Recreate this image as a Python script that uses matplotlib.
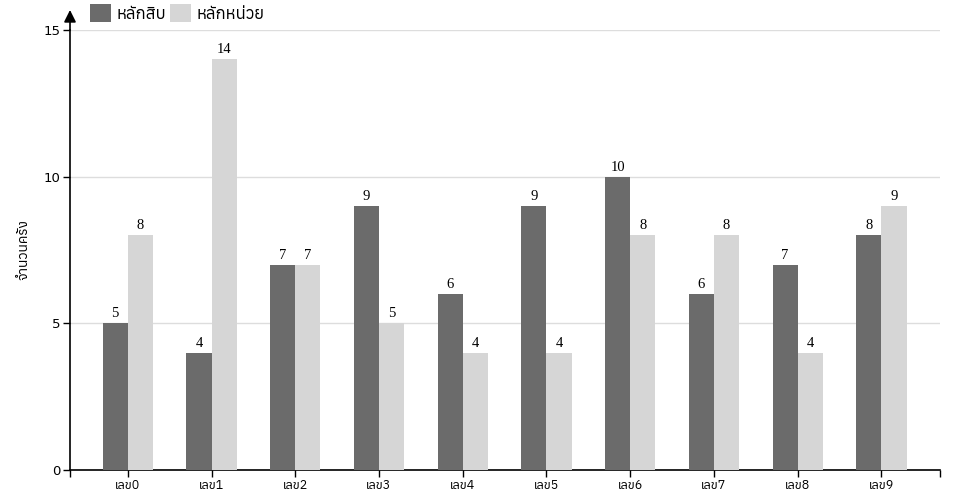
import matplotlib
matplotlib.use("Agg")
import matplotlib.pyplot as plt
from matplotlib import font_manager
from matplotlib.ft2font import FT2Font
import numpy as np

categories = ["เลข0", "เลข1", "เลข2", "เลข3", "เลข4", "เลข5", "เลข6", "เลข7", "เลข8", "เลข9"]
tens = [5, 4, 7, 9, 6, 9, 10, 6, 7, 8]
units = [8, 14, 7, 5, 4, 4, 8, 8, 4, 9]
series_names = ["หลักสิบ", "หลักหน่วย"]
y_label = "จำนวนครั้ง"
y_ticks = [0, 5, 10, 15]

# find an installed font that has Thai glyphs
thai_fonts = []
for f in font_manager.fontManager.ttflist:
    try:
        if 0x0E2B in FT2Font(f.fname).get_charmap():
            thai_fonts.append(f.name)
    except Exception:
        pass
families = sorted(set(thai_fonts)) + ["DejaVu Sans"]
plt.rcParams["font.family"] = families

dark = "#6b6b6b"
light = "#d6d6d6"

fig = plt.figure(figsize=(9.6, 5), dpi=100)
ax = fig.add_axes([70 / 960, 30 / 500, 870 / 960, 440 / 500])

x = np.arange(len(categories))
w = 0.3
b1 = ax.bar(x - w / 2, tens, w, color=dark, label=series_names[0], zorder=3)
b2 = ax.bar(x + w / 2, units, w, color=light, label=series_names[1], zorder=3)

for bars, vals in ((b1, tens), (b2, units)):
    for r, v in zip(bars, vals):
        ax.text(r.get_x() + r.get_width() / 2, v + 0.1, str(v), ha="center", va="bottom",
                fontsize=10.5, family="Liberation Serif")

ax.set_xlim(-0.69, 9.7)
ax.set_ylim(0, 15)
ax.set_yticks(y_ticks)
ax.set_xticks(x)
ax.set_xticklabels(categories, fontsize=9)
ax.set_xticks([-0.69, 9.7], minor=True)
ax.tick_params(axis="x", which="both", length=5, width=1, pad=1.5)
ax.tick_params(axis="y", length=5, width=1, labelsize=9.5, pad=2)
for lab in ax.get_yticklabels():
    lab.set_family("DejaVu Sans")
ax.grid(axis="y", color="#dddddd", lw=1, zorder=0)

for s in ("top", "right"):
    ax.spines[s].set_visible(False)
ax.spines["left"].set_linewidth(1.2)
ax.spines["bottom"].set_linewidth(1.2)

# arrow on top of y axis
ax.annotate("", xy=(70 / 960, 490 / 500), xytext=(70 / 960, 470 / 500),
            xycoords="figure fraction", textcoords="figure fraction",
            arrowprops=dict(arrowstyle="-|>", color="black", lw=1.2, mutation_scale=18,
                            shrinkA=0, shrinkB=0))

ax.set_ylabel(y_label, fontsize=10)
ax.yaxis.set_label_coords(-0.045, 0.5)

ax.legend(loc="upper left", bbox_to_anchor=(86 / 960, 1.0), bbox_transform=fig.transFigure,
          ncol=2, frameon=False, fontsize=12, handlelength=1.25, handleheight=1.3,
          columnspacing=0.2, handletextpad=0.35, borderaxespad=0.0, borderpad=0.25)

fig.savefig("out.png", dpi=100)
